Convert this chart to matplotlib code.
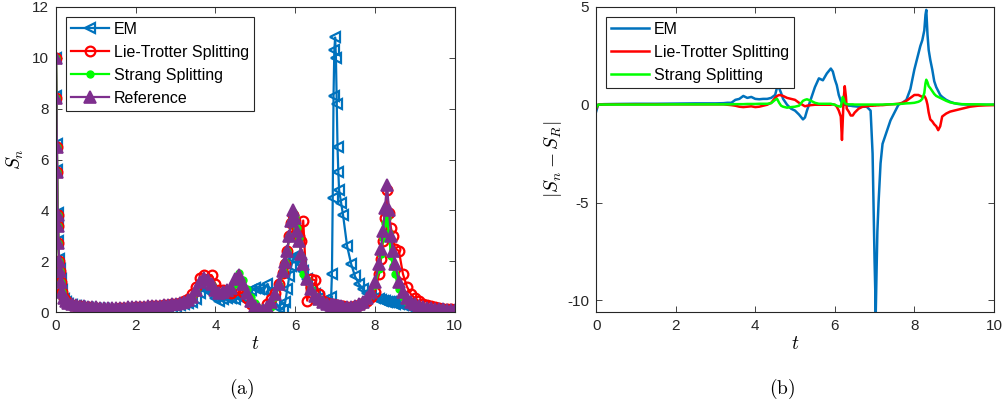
import matplotlib
matplotlib.use('Agg')
import matplotlib.pyplot as plt

plt.rcParams['font.family'] = ['Liberation Sans', 'DejaVu Sans']
plt.rcParams['mathtext.fontset'] = 'cm'

# ---- panel (a): S_n against t ----
t_grid = [0.0, 0.01, 0.02, 0.03, 0.04, 0.05, 0.06, 0.08, 0.1, 0.12, 0.15, 0.2, 0.25,
          0.3, 0.4, 0.5, 0.6, 0.7, 0.8, 0.9, 1.0, 1.1, 1.2,
          1.3, 1.4, 1.5, 1.6, 1.7, 1.8, 1.9, 2.0, 2.1, 2.2,
          2.3, 2.4, 2.5, 2.6, 2.7, 2.8, 2.9, 3.0, 3.1, 3.2,
          3.3, 3.4, 3.5, 3.6, 3.7, 3.8, 3.9, 4.0, 4.1, 4.2,
          4.3, 4.4, 4.5, 4.6, 4.7, 4.8, 4.9, 5.0, 5.1, 5.2,
          5.3, 5.4, 5.5, 5.6, 5.7,
          5.75, 5.8, 5.85, 5.9, 5.95, 6.0, 6.05, 6.1, 6.15, 6.2,
          6.3, 6.4, 6.5, 6.6, 6.7, 6.8, 6.9,
          6.92, 6.94, 6.96, 6.98, 7.0, 7.02, 7.04, 7.06, 7.08, 7.1,
          7.15, 7.2, 7.3, 7.4, 7.5, 7.6, 7.7, 7.8, 7.9, 8.0, 8.1,
          8.15, 8.2, 8.25, 8.3, 8.35, 8.4, 8.45, 8.5,
          8.6, 8.7, 8.8, 8.9, 9.0, 9.1, 9.2, 9.3, 9.4, 9.5, 9.6, 9.7, 9.8, 9.9, 10.0]

s_em = [10.0, 8.5, 6.6, 5.6, 3.9, 3.5, 2.8, 2.1, 1.7, 1.3, 0.85, 0.52, 0.38,
        0.32, 0.27, 0.23, 0.2, 0.17, 0.15, 0.13, 0.12, 0.11, 0.11,
        0.1, 0.1, 0.1, 0.1, 0.11, 0.11, 0.12, 0.12, 0.13, 0.14,
        0.15, 0.16, 0.17, 0.18, 0.2, 0.21, 0.23, 0.25, 0.27, 0.3,
        0.35, 0.4, 0.5, 0.75, 0.9, 0.85, 0.75, 0.55, 0.45, 0.5,
        0.55, 0.55, 0.5, 0.6, 0.6, 0.7, 0.85, 0.95, 0.9, 0.85,
        1.1, 0.8, 0.4, 0.15, 0.1,
        0.4, 0.9, 1.4, 1.8, 2.1, 2.2, 2.2, 2.1, 1.9, 1.6,
        1.3, 0.95, 0.7, 0.55, 0.45, 0.4, 0.6,
        1.5, 4.5, 8.5, 10.3, 10.8, 10.0, 8.2, 6.5, 5.5, 4.8,
        4.3, 3.8, 2.6, 1.9, 1.4, 1.1, 0.9, 0.75, 0.65, 0.55, 0.5,
        0.48, 0.45, 0.42, 0.4, 0.39, 0.38, 0.35, 0.33,
        0.3, 0.27, 0.24, 0.2, 0.18, 0.15, 0.13, 0.11, 0.1, 0.08, 0.07, 0.06, 0.05, 0.05, 0.05]

s_lie = [10.0, 8.4, 6.5, 5.5, 3.8, 3.4, 2.7, 2.0, 1.6, 1.2, 0.8, 0.55, 0.42,
         0.34, 0.29, 0.25, 0.22, 0.2, 0.18, 0.16, 0.15, 0.14, 0.14,
         0.14, 0.14, 0.14, 0.15, 0.15, 0.16, 0.17, 0.18, 0.19, 0.2,
         0.21, 0.22, 0.23, 0.24, 0.26, 0.28, 0.3, 0.33, 0.37, 0.43,
         0.52, 0.7, 1.0, 1.35, 1.45, 1.3, 1.45, 1.1, 0.85, 0.85,
         0.8, 0.75, 0.85, 0.95, 0.8, 0.55, 0.3, 0.12, 0.05, 0.1,
         0.3, 0.5, 0.75, 1.1, 1.55,
         1.9, 2.4, 3.0, 3.5, 3.8, 3.6, 3.2, 3.0, 2.8, 3.6,
         0.45, 1.3, 1.25, 0.7, 0.45, 0.35, 0.3,
         0.28, 0.28, 0.27, 0.27, 0.26, 0.26, 0.25, 0.25, 0.25, 0.24,
         0.23, 0.22, 0.21, 0.21, 0.23, 0.28, 0.35, 0.45, 0.6, 0.8, 1.5,
         2.1, 2.8, 3.7, 4.8, 3.9, 3.3, 3.0, 2.5,
         2.4, 1.5, 1.0, 0.7, 0.55, 0.42, 0.33, 0.27, 0.22, 0.18, 0.16, 0.14, 0.12, 0.11, 0.1]

s_strang = [10.0, 8.4, 6.5, 5.5, 3.8, 3.4, 2.7, 2.0, 1.6, 1.2, 0.8, 0.55, 0.42,
            0.35, 0.3, 0.26, 0.23, 0.21, 0.19, 0.18, 0.17, 0.16, 0.16,
            0.15, 0.15, 0.15, 0.16, 0.16, 0.17, 0.17, 0.18, 0.19, 0.2,
            0.21, 0.22, 0.23, 0.24, 0.26, 0.27, 0.29, 0.31, 0.34, 0.39,
            0.47, 0.58, 0.82, 1.15, 1.3, 1.2, 1.05, 0.82, 0.72, 0.78,
            0.83, 0.93, 1.1, 1.55, 1.25, 0.92, 0.6, 0.35, 0.15, 0.02,
            0.0, 0.2, 0.6, 1.05, 1.6,
            1.95, 2.4, 3.0, 3.6, 3.95, 3.75, 3.3, 2.9, 2.2, 1.5,
            1.25, 0.9, 0.65, 0.5, 0.4, 0.32, 0.28,
            0.27, 0.27, 0.26, 0.26, 0.25, 0.25, 0.25, 0.24, 0.24, 0.23,
            0.22, 0.21, 0.2, 0.21, 0.24, 0.3, 0.38, 0.5, 0.72, 1.05, 1.7,
            2.3, 2.9, 3.5, 3.7, 3.1, 2.2, 1.8, 1.5,
            0.9, 0.6, 0.4, 0.3, 0.25, 0.22, 0.18, 0.16, 0.14, 0.13, 0.12, 0.11, 0.1, 0.1, 0.1]

s_ref = [10.0, 8.4, 6.5, 5.5, 3.8, 3.4, 2.7, 2.0, 1.6, 1.2, 0.8, 0.55, 0.42,
         0.35, 0.3, 0.27, 0.24, 0.22, 0.2, 0.19, 0.18, 0.17, 0.17,
         0.16, 0.16, 0.16, 0.17, 0.17, 0.18, 0.18, 0.19, 0.2, 0.21,
         0.22, 0.23, 0.24, 0.25, 0.27, 0.28, 0.3, 0.32, 0.35, 0.4,
         0.48, 0.6, 0.85, 1.2, 1.35, 1.25, 1.1, 0.85, 0.75, 0.8,
         0.85, 0.95, 1.3, 1.45, 1.1, 0.75, 0.45, 0.25, 0.12, 0.1,
         0.2, 0.4, 0.7, 1.1, 1.6,
         1.95, 2.4, 3.0, 3.6, 4.0, 3.7, 3.2, 2.8, 2.3, 1.9,
         1.3, 0.9, 0.65, 0.5, 0.4, 0.32, 0.28,
         0.27, 0.27, 0.26, 0.26, 0.25, 0.25, 0.25, 0.24, 0.24, 0.23,
         0.22, 0.21, 0.2, 0.21, 0.24, 0.3, 0.4, 0.55, 0.8, 1.2, 1.9,
         2.5, 3.2, 4.1, 5.0, 4.0, 3.0, 2.4, 1.9,
         1.2, 0.8, 0.55, 0.4, 0.3, 0.25, 0.2, 0.17, 0.15, 0.13, 0.12, 0.11, 0.1, 0.1, 0.1]

# ---- panel (b): error against the reference ----
t_err = [0.0, 0.05, 0.1, 0.2, 0.5, 1.0, 1.5, 2.0, 2.5, 3.0,
         3.2, 3.3, 3.4, 3.5, 3.6, 3.7, 3.8, 3.9, 4.0, 4.1,
         4.2, 4.3, 4.4, 4.5, 4.55, 4.6, 4.65, 4.7, 4.8, 4.9,
         5.0, 5.1, 5.2, 5.25, 5.3, 5.4, 5.5, 5.6, 5.7, 5.8,
         5.9, 5.95, 6.0, 6.05, 6.1, 6.15, 6.18, 6.2, 6.22, 6.25,
         6.28, 6.3, 6.35, 6.4, 6.45, 6.5, 6.6, 6.7, 6.8, 6.9,
         6.95, 7.0, 7.03, 7.05, 7.07, 7.1, 7.15, 7.2, 7.3, 7.4,
         7.5, 7.6, 7.7, 7.8, 7.9, 8.0, 8.1, 8.15, 8.2, 8.25,
         8.28, 8.3, 8.33, 8.36, 8.4, 8.45, 8.5, 8.55, 8.6, 8.65,
         8.7, 8.8, 8.9, 9.0, 9.1, 9.2, 9.4, 9.6, 9.8, 10.0]

err_em = [-0.35, 0.0, 0.02, 0.03, 0.04, 0.05, 0.05, 0.06, 0.07, 0.07,
          0.08, 0.1, 0.1, 0.25, 0.3, 0.45, 0.35, 0.4, 0.3, 0.28,
          0.3, 0.3, 0.35, 0.5, 0.9, 0.85, 0.6, 0.3, 0.0, -0.2,
          -0.3, -0.5, -0.75, -0.65, -0.3, 0.3, 0.9, 1.35, 1.25, 1.6,
          1.85, 1.7, 1.3, 1.0, 0.5, 0.2, 0.1, 0.05, 0.0, 0.0,
          0.0, -0.02, -0.05, -0.05, -0.07, -0.08, -0.1, -0.1, -0.1, -0.3,
          -2.5, -8.0, -10.6, -8.5, -6.5, -5.0, -3.0, -2.0, -1.4, -0.8,
          -0.4, 0.0, 0.1, 0.25, 0.8, 1.8, 2.6, 3.0, 3.3, 3.8,
          4.6, 4.85, 3.6, 2.8, 2.3, 1.8, 1.2, 0.9, 0.7, 0.5,
          0.4, 0.25, 0.15, 0.08, 0.04, 0.02, 0.01, 0.0, 0.0, 0.0]

err_lie = [-0.2, 0.0, 0.01, 0.01, 0.02, 0.02, 0.02, 0.02, 0.02, 0.02,
           0.02, 0.0, -0.02, -0.05, -0.1, -0.12, -0.1, -0.08, -0.12, -0.1,
           -0.05, 0.0, 0.1, 0.35, 0.45, 0.5, 0.48, 0.45, 0.35, 0.3,
           0.25, 0.1, -0.02, -0.08, -0.05, -0.02, 0.0, 0.0, 0.0, 0.0,
           0.0, 0.02, 0.0, -0.1, -0.3, -0.6, -1.8, -0.8, 0.2, 0.95,
           0.4, -0.2, -0.35, -0.55, -0.55, -0.4, -0.2, -0.1, -0.08, -0.05,
           -0.05, -0.04, -0.04, -0.03, -0.03, -0.03, -0.02, -0.02, 0.0, 0.02,
           0.03, 0.05, 0.1, 0.2, 0.35, 0.5, 0.5, 0.45, 0.4, 0.45,
           0.35, 0.25, 0.0, -0.4, -0.75, -0.85, -1.0, -1.1, -1.3, -1.1,
           -0.6, -0.45, -0.35, -0.3, -0.25, -0.2, -0.1, -0.05, -0.03, -0.02]

err_strang = [-0.15, 0.0, 0.01, 0.01, 0.01, 0.01, 0.01, 0.02, 0.02, 0.02,
              0.02, 0.02, 0.02, 0.03, 0.03, 0.03, 0.04, 0.04, 0.04, 0.05,
              0.05, 0.05, 0.08, 0.25, 0.3, 0.1, -0.05, -0.1, -0.15, -0.12,
              -0.1, -0.05, 0.2, 0.25, 0.28, 0.2, 0.1, 0.05, 0.05, 0.05,
              0.05, 0.02, 0.0, -0.05, -0.08, -0.1, 0.2, 0.4, 0.3, 0.1,
              0.05, 0.03, 0.02, 0.02, 0.02, 0.01, 0.01, 0.01, 0.01, 0.01,
              0.01, 0.01, 0.01, 0.01, 0.01, 0.01, 0.01, 0.01, 0.02, 0.02,
              0.03, 0.04, 0.05, 0.07, 0.08, 0.1, 0.15, 0.2, 0.3, 0.6,
              1.1, 1.28, 1.15, 0.95, 0.85, 0.7, 0.55, 0.45, 0.4, 0.35,
              0.3, 0.2, 0.12, 0.08, 0.05, 0.03, 0.02, 0.02, 0.01, 0.01]

c_em = '#0072BD'
c_lie = '#FF0000'
c_strang = '#00FF00'
c_ref = '#7E2F8E'


def style_axes(ax):
    for sp in ax.spines.values():
        sp.set_color('#262626')
        sp.set_linewidth(0.8)
    ax.tick_params(direction='in', top=True, right=True, length=4, width=0.6,
                   colors='#262626', labelsize=11, pad=5)


def add_legend(ax):
    leg = ax.legend(loc='upper left', bbox_to_anchor=(0.025, 0.967), borderaxespad=0,
                    fontsize=11.5, fancybox=False, framealpha=1, edgecolor='#262626',
                    handlelength=2.4, labelspacing=0.5, borderpad=0.3, handletextpad=0.3)
    leg.get_frame().set_linewidth(0.8)


fig = plt.figure(figsize=(10.07, 4.09), dpi=100)
ax1 = fig.add_axes([0.0556, 0.237, 0.396, 0.746])
ax2 = fig.add_axes([0.592, 0.237, 0.395, 0.746])

ax1.plot(t_grid, s_em, '-<', color=c_em, lw=1.6, ms=7, mfc='none', mew=1.6, label='EM')
ax1.plot(t_grid, s_lie, '-o', color=c_lie, lw=1.6, ms=7, mfc='none', mew=1.6, label='Lie-Trotter Splitting')
ax1.plot(t_grid, s_strang, '-o', color=c_strang, lw=1.6, ms=5, mfc=c_strang, label='Strang Splitting')
ax1.plot(t_grid, s_ref, '-^', color=c_ref, lw=1.6, ms=8, mfc=c_ref, mew=1.2, label='Reference')
ax1.set_xlim(0, 10)
ax1.set_ylim(0, 12)
ax1.set_xticks([0, 2, 4, 6, 8, 10])
ax1.set_yticks([0, 2, 4, 6, 8, 10, 12])
ax1.set_xlabel('$t$', fontsize=14, labelpad=2)
ax1.set_ylabel('$S_n$', fontsize=14, labelpad=4)
style_axes(ax1)
add_legend(ax1)

ax2.plot(t_err, err_em, color=c_em, lw=1.8, label='EM')
ax2.plot(t_err, err_lie, color=c_lie, lw=1.8, label='Lie-Trotter Splitting')
ax2.plot(t_err, err_strang, color=c_strang, lw=1.8, label='Strang Splitting')
ax2.set_xlim(0, 10)
ax2.set_ylim(-10.6, 5)
ax2.set_xticks([0, 2, 4, 6, 8, 10])
ax2.set_yticks([-10, -5, 0, 5])
ax2.set_yticklabels(['-10', '-5', '0', '5'])
ax2.set_xlabel('$t$', fontsize=14, labelpad=2)
ax2.set_ylabel('$|S_n - S_R|$', fontsize=14, labelpad=2)
style_axes(ax2)
add_legend(ax2)

fig.text(0.240, 0.05, r'$\mathrm{(a)}$', fontsize=14, ha='center', va='center')
fig.text(0.777, 0.05, r'$\mathrm{(b)}$', fontsize=14, ha='center', va='center')

fig.savefig('out.png', dpi=100)
